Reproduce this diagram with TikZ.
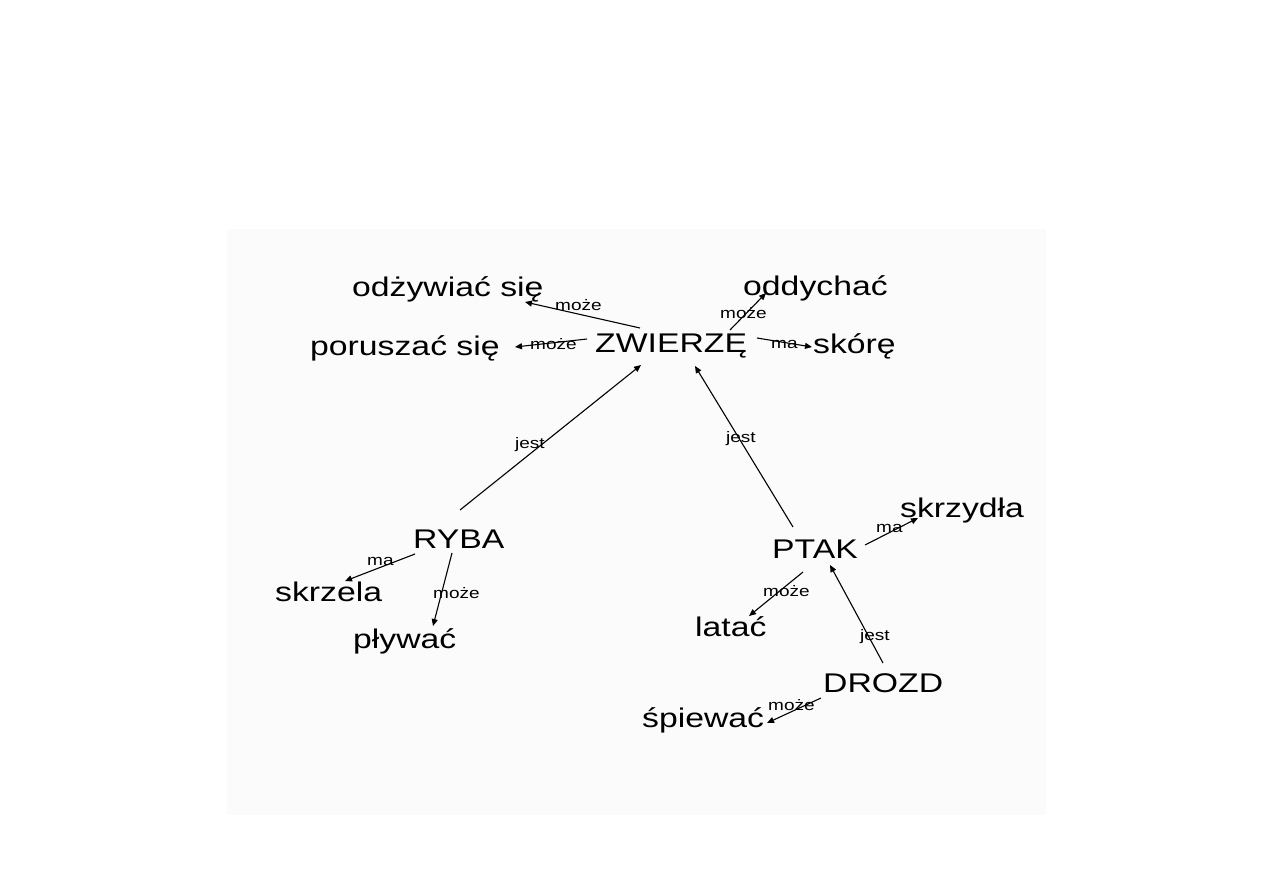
\documentclass[tikz,border=0pt]{standalone}
\usepackage{fontspec}
\setmainfont{Liberation Sans}[FakeStretch=1.25]
\usetikzlibrary{arrows.meta}
\tikzset{
  concept/.style={anchor=base west, inner sep=0pt, font=\fontsize{27}{30}\selectfont},
  rel/.style={anchor=base west, inner sep=0pt, font=\fontsize{15.2}{17}\selectfont},
  arr/.style={draw=black, line width=1.1pt, -{Triangle[length=7pt,width=6pt]}}
}
\begin{document}
\begin{tikzpicture}[x=1pt,y=-1pt]
\useasboundingbox (0,0) rectangle (1263,893);
\fill[fill={rgb,255:red,251;green,251;blue,251}] (227,229) rectangle (1046,815);
% concepts
\node[concept] (Z)  at (595,352) {ZWIERZĘ};
\node[concept] (O1) at (352,296) {odżywiać się};
\node[concept] (O2) at (743,295) {oddychać};
\node[concept] (S)  at (813,353) {skórę};
\node[concept] (P)  at (310,355) {poruszać się};
\node[concept] (R)  at (413,548) {RYBA};
\node[concept] (SK) at (275,601) {skrzela};
\node[concept] (PL) at (353,648) {pływać};
\node[concept] (PT) at (772,558) {PTAK};
\node[concept] (SD) at (900,517) {skrzydła};
\node[concept] (L)  at (695,636) {latać};
\node[concept] (D)  at (823,692) {DROZD};
\node[concept] (SP) at (642,727) {śpiewać};
% connectors
\draw[arr] ([shift={(45,-24)}]Z.base west) -- ([shift={(173,6)}]O1.base west);
\draw[arr] ([shift={(-8,-13)}]Z.base west) -- ([shift={(205,-8)}]P.base west);
\draw[arr] ([shift={(135,-22)}]Z.base west) -- ([shift={(23,-2)}]O2.base west);
\draw[arr] ([shift={(162,-14)}]Z.base west) -- ([shift={(-1,-6)}]S.base west);
\draw[arr] ([shift={(47,-38)}]R.base west) -- ([shift={(46,13)}]Z.base west);
\draw[arr] ([shift={(21,-31)}]PT.base west) -- ([shift={(100,14)}]Z.base west);
\draw[arr] ([shift={(2,6)}]R.base west) -- ([shift={(70,-20)}]SK.base west);
\draw[arr] ([shift={(39,5)}]R.base west) -- ([shift={(80,-22)}]PL.base west);
\draw[arr] ([shift={(93,-13)}]PT.base west) -- ([shift={(18,1)}]SD.base west);
\draw[arr] ([shift={(31,14)}]PT.base west) -- ([shift={(54,-20)}]L.base west);
\draw[arr] ([shift={(60,-29)}]D.base west) -- ([shift={(58,7)}]PT.base west);
\draw[arr] ([shift={(-2,6)}]D.base west) -- ([shift={(125,-4)}]SP.base west);
% relation labels
\node[rel] (l1)  at (555,310) {może};
\node[rel] (l2)  at (530,349) {może};
\node[rel] (l3)  at (720,318) {może};
\node[rel] (l4)  at (771,348) {ma};
\node[rel] (l5)  at (515,448) {jest};
\node[rel] (l6)  at (726,442) {jest};
\node[rel] (l7)  at (367,565) {ma};
\node[rel] (l8)  at (433,598) {może};
\node[rel] (l9)  at (876,532) {ma};
\node[rel] (l10) at (763,596) {może};
\node[rel] (l11) at (860,640) {jest};
\node[rel] (l12) at (768,710) {może};
\end{tikzpicture}
\end{document}
